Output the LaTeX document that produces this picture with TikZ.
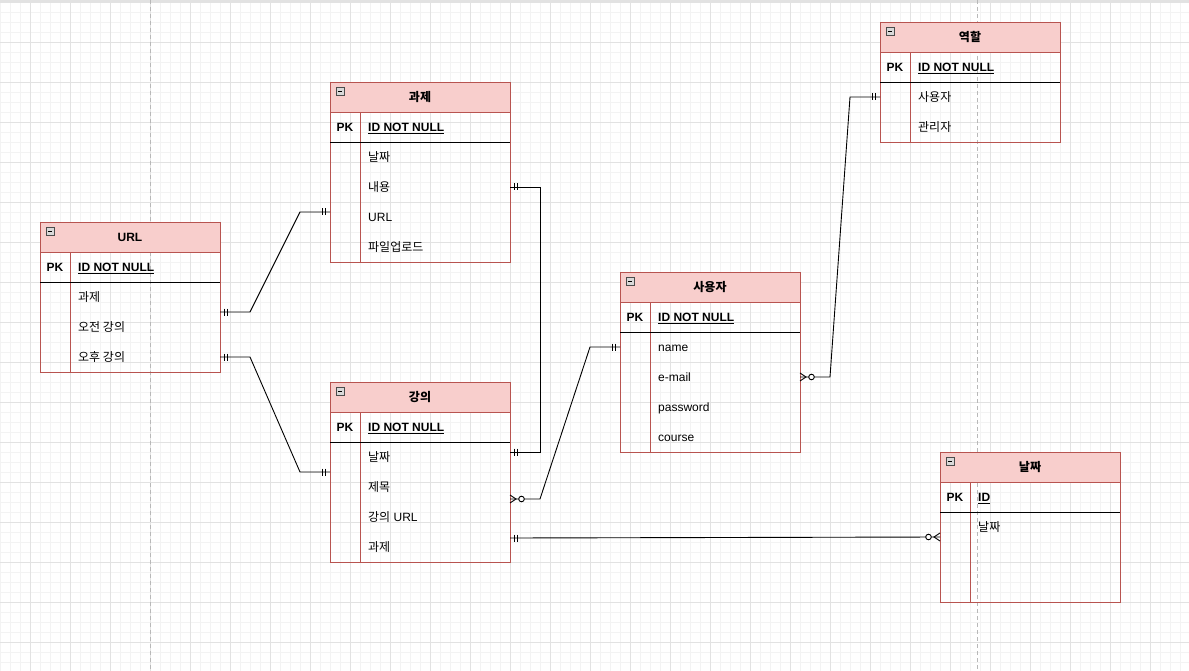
\documentclass[tikz,border=0pt]{standalone}
\usepackage{fontspec}
\setmainfont{Liberation Sans}
\newfontfamily\kr{Noto Sans CJK KR}
\usetikzlibrary{calc}
\definecolor{hdrfill}{HTML}{F8CECC}
\definecolor{hdrline}{HTML}{B85450}
\definecolor{gridmajor}{HTML}{E2E2E2}
\definecolor{gridminor}{HTML}{F3F3F3}
\definecolor{dashcol}{HTML}{B8B8B8}
\tikzset{
 tbl/.style={draw=none, minimum width=180pt, inner sep=0pt, outer sep=0pt, anchor=north west},
 tblline/.style={draw=hdrline, line width=0.9pt},
 pkline/.style={draw=black, line width=0.9pt},
 hdrtext/.style={font=\fontsize{12}{14}\selectfont\bfseries, inner sep=0pt, text height=8.6pt, text depth=0pt},
 pktext/.style={font=\fontsize{12}{14}\selectfont\bfseries, inner sep=0pt, text height=8.6pt, text depth=0pt},
 fieldtext/.style={font=\fontsize{12}{14}\selectfont, anchor=west, inner sep=0pt, text height=8.6pt, text depth=0pt},
 conn/.style={draw=black, line width=0.9pt},
 gminor/.style={draw=gridminor, line width=0.8pt},
 gmajor/.style={draw=gridmajor, line width=0.8pt},
 icon/.style={draw=gray!60!black, fill=gray!30, line width=0.6pt},
}
% #1 name, #2 x, #3 y, #4 body height, #5 title, #6 pk field
\newcommand\ertable[6]{%
 \node[tbl, minimum height=60pt+#4pt] (#1) at (#2,#3) {};
 \fill[hdrfill] (#1.north west) rectangle ++(180,30);
 \draw[tblline] (#1.north west) rectangle (#1.south east);
 \draw[tblline] ($(#1.north west)+(0,30)$) -- ++(180,0);
 \draw[tblline] ($(#1.north west)+(30,30)$) -- ($(#1.south west)+(30,0)$);
 \draw[pkline] ($(#1.north west)+(0,60)$) -- ++(180,0);
 \node[hdrtext] at ($(#1.north)+(0,15)$) {#5};
 \node[pktext] at ($(#1.north west)+(15,45)$) {PK};
 \node[fieldtext, font=\fontsize{12}{14}\selectfont\bfseries] at ($(#1.north west)+(38,45)$) {\underline{#6}};
 \draw[icon] ($(#1.north west)+(6,5)$) rectangle ++(8,8);
 \draw[line width=0.8pt] ($(#1.north west)+(7.8,9)$) -- ++(4.4,0);
}
\newcommand\ertrow[3]{\node[fieldtext] at ($(#1.north west)+(38,{45+30*#2})$) {#3};}
% mandatory one marks: #1 coordinate, #2 direction (+1 right, -1 left)
\newcommand\mone[2]{\draw[conn] ($(#1)+({#2*4.3},-3.5)$) -- ++(0,7) ($(#1)+({#2*7.7},-3.5)$) -- ++(0,7);}
% zero to many
\newcommand\zmany[2]{%
 \draw[conn] ($(#1)+(0,-4)$) -- ($(#1)+({#2*6},0)$) -- ($(#1)+(0,4)$);
 \draw[conn, fill=white] ($(#1)+({#2*11.5},0)$) circle[radius=2.8pt];
}
\begin{document}
\begin{tikzpicture}[x=1pt, y=-1pt]
\useasboundingbox (0,0) rectangle (1189,671);
\fill[white] (0,0) rectangle (1189,671);
% grid
\foreach \x in {0,10,...,1180} \draw[gminor] (\x,0) -- (\x,671);
\foreach \y in {2,12,...,662} \draw[gminor] (0,\y) -- (1189,\y);
\foreach \x in {30,70,...,1150} \draw[gmajor] (\x,0) -- (\x,671);
\foreach \y in {2,42,...,642} \draw[gmajor] (0,\y) -- (1189,\y);
\draw[draw=gridmajor, line width=1.5pt] (0,0.8) -- (1189,0.8);
\draw[dashcol, dashed, dash pattern=on 4pt off 3pt, line width=0.8pt] (150,0) -- (150,671);
\draw[dashcol, dashed, dash pattern=on 4pt off 3pt, line width=0.8pt] (977,0) -- (977,671);

% tables
\ertable{gwaje}{330}{82}{120}{{\kr 과제}}{ID NOT NULL}
\ertrow{gwaje}{1}{{\kr 날짜}}
\ertrow{gwaje}{2}{{\kr 내용}}
\ertrow{gwaje}{3}{URL}
\ertrow{gwaje}{4}{{\kr 파일업로드}}

\ertable{url}{40}{222}{90}{URL}{ID NOT NULL}
\ertrow{url}{1}{{\kr 과제}}
\ertrow{url}{2}{{\kr 오전 강의}}
\ertrow{url}{3}{{\kr 오후 강의}}

\ertable{gangui}{330}{382}{120}{{\kr 강의}}{ID NOT NULL}
\ertrow{gangui}{1}{{\kr 날짜}}
\ertrow{gangui}{2}{{\kr 제목}}
\ertrow{gangui}{3}{{\kr 강의} URL}
\ertrow{gangui}{4}{{\kr 과제}}

\ertable{user}{620}{272}{120}{{\kr 사용자}}{ID NOT NULL}
\ertrow{user}{1}{name}
\ertrow{user}{2}{e-mail}
\ertrow{user}{3}{password}
\ertrow{user}{4}{course}

\ertable{role}{880}{22}{60}{{\kr 역할}}{ID NOT NULL}
\ertrow{role}{1}{{\kr 사용자}}
\ertrow{role}{2}{{\kr 관리자}}

\ertable{date}{940}{452}{90}{{\kr 날짜}}{ID}
\ertrow{date}{1}{{\kr 날짜}}

% connection points
\coordinate (url-a) at ($(url.north east)+(0,90)$);
\coordinate (url-b) at ($(url.north east)+(0,135)$);
\coordinate (gwaje-w) at ($(gwaje.north west)+(0,130)$);
\coordinate (gwaje-e) at ($(gwaje.north east)+(0,105)$);
\coordinate (gangui-w) at ($(gangui.north west)+(0,90)$);
\coordinate (gangui-e1) at ($(gangui.north east)+(0,70)$);
\coordinate (gangui-e2) at ($(gangui.north east)+(0,117)$);
\coordinate (gangui-e3) at ($(gangui.north east)+(0,156)$);
\coordinate (user-w) at ($(user.north west)+(0,75)$);
\coordinate (user-e) at ($(user.north east)+(0,105)$);
\coordinate (role-w) at ($(role.north west)+(0,75)$);
\coordinate (date-w) at ($(date.north west)+(0,85)$);

% connectors
\draw[conn] (url-a) -- ++(30,0) -- ($(gwaje-w)+(-30,0)$) -- (gwaje-w);
\mone{url-a}{1}\mone{gwaje-w}{-1}
\draw[conn] (url-b) -- ++(30,0) -- ($(gangui-w)+(-30,0)$) -- (gangui-w);
\mone{url-b}{1}\mone{gangui-w}{-1}
\draw[conn] (gwaje-e) -- ++(30,0) |- (gangui-e1);
\mone{gwaje-e}{1}\mone{gangui-e1}{1}
\draw[conn] (gangui-e2) -- ++(30,0) -- ($(user-w)+(-30,0)$) -- (user-w);
\zmany{gangui-e2}{1}\mone{user-w}{-1}
\draw[conn] (user-e) -- ++(30,0) -- ($(role-w)+(-30,0)$) -- (role-w);
\zmany{user-e}{1}\mone{role-w}{-1}
\draw[conn] (gangui-e3) -- (date-w);
\mone{gangui-e3}{1}\zmany{date-w}{-1}
\end{tikzpicture}
\end{document}
